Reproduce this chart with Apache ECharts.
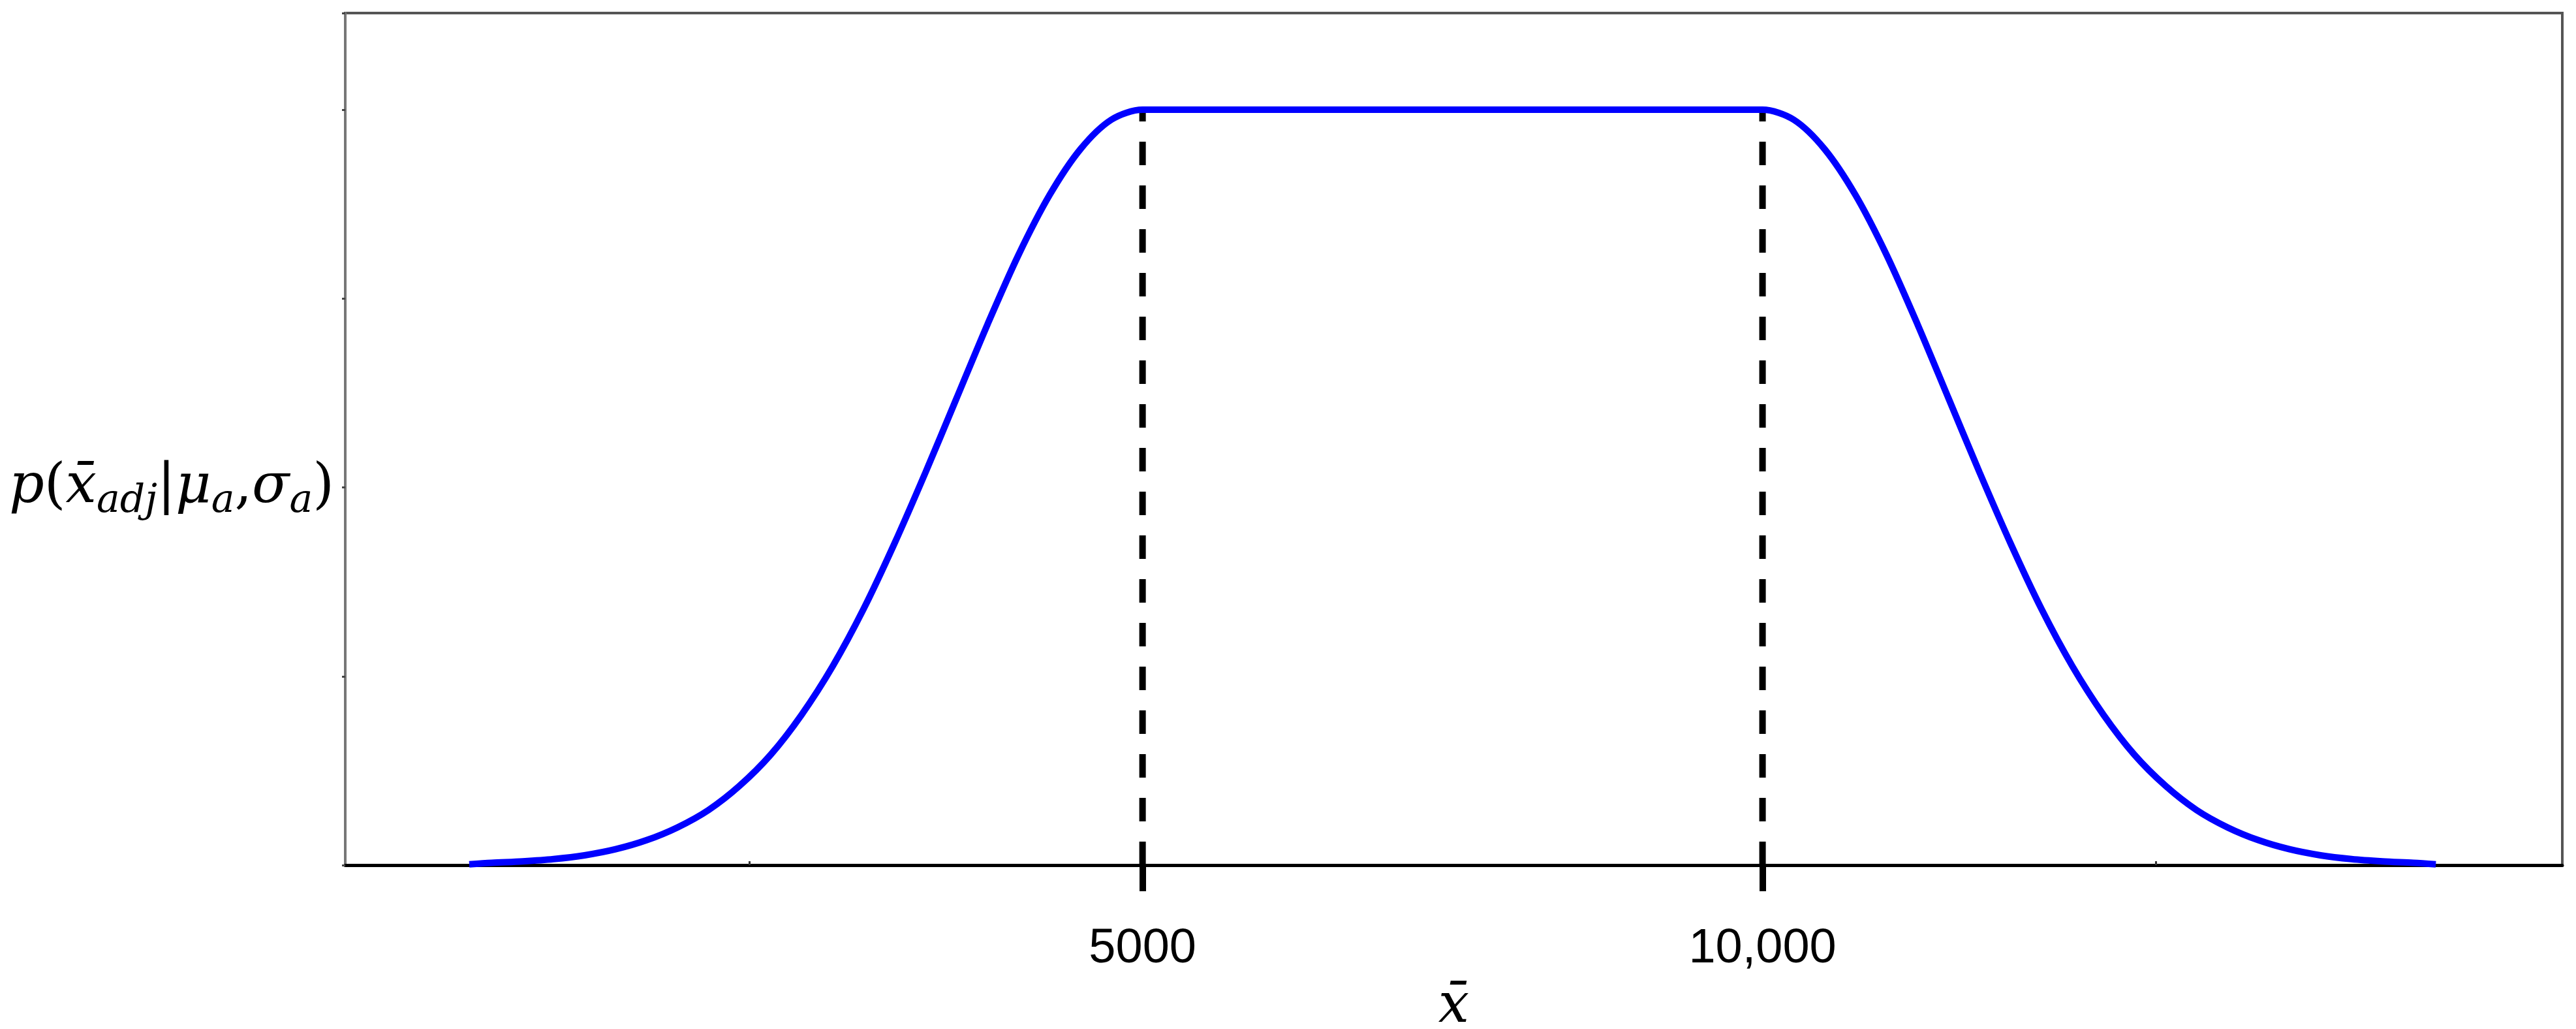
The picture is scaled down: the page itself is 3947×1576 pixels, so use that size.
<!DOCTYPE html>
<html>
<head>
<meta charset="utf-8">
<title>p(x̄adj|μa,σa)</title>
<script src="https://cdn.jsdelivr.net/npm/echarts@6/dist/echarts.min.js"></script>
<style>
  html, body { margin: 0; padding: 0; background: #fff; }
  #chart { width: 3947px; height: 1576px; }
</style>
</head>
<body>
<div id="chart"></div>
<script>
  // rising flank (x̄, density relative to the flat top)
  var leftX = [-430, -250, 0, 250, 500, 750, 1000, 1250, 1500, 1750, 2000, 2250, 2500, 2750, 3000, 3250, 3500, 3750, 4000, 4250, 4500, 4750, 5000];
  var leftY = [0.001, 0.003, 0.005, 0.008, 0.013, 0.021, 0.033, 0.050, 0.073, 0.105, 0.146, 0.199, 0.263, 0.339, 0.426, 0.520, 0.618, 0.716, 0.808, 0.887, 0.948, 0.987, 1.0];
  // falling flank
  var rightX = [10000, 10250, 10500, 10750, 11000, 11250, 11500, 11750, 12000, 12250, 12500, 12750, 13000, 13250, 13500, 13750, 14000, 14250, 14500, 14750, 15000, 15250, 15430];
  var rightY = [1.0, 0.987, 0.948, 0.887, 0.808, 0.716, 0.618, 0.520, 0.426, 0.339, 0.263, 0.199, 0.146, 0.105, 0.073, 0.050, 0.033, 0.021, 0.013, 0.008, 0.005, 0.003, 0.001];
  // the two bounds of the flat top (dashed lines) and their labels
  var bounds = [5000, 10000];
  var boundLabels = ['5000', '10,000'];
  var plateau = 1.0;
  // small unlabelled ticks on the x axis
  var minorTicks = [1830, 13170];

  var curve = [];
  for (var i = 0; i < leftX.length; i++) curve.push([leftX[i], leftY[i]]);
  for (var j = 0; j < rightX.length; j++) curve.push([rightX[j], rightY[j]]);

  var dashStyle = { color: '#000', width: 10, type: [36, 31] };

  var chart = echarts.init(document.getElementById('chart'));
  var option = {
    backgroundColor: '#fff',
    animation: false,
    grid: {
      left: 529, right: 21, top: 20, bottom: 251,
      show: true, borderColor: '#555', borderWidth: 4,
      outerBoundsMode: 'none'
    },
    xAxis: [{
      type: 'value',
      min: -1430, max: 16450,
      splitLine: { show: false },
      axisLine: { onZero: false, lineStyle: { color: '#000', width: 5 } },
      axisTick: { customValues: bounds, length: 40, lineStyle: { color: '#000', width: 10 } },
      axisLabel: {
        customValues: bounds,
        margin: 92,
        fontFamily: 'Liberation Sans',
        fontSize: 74,
        color: '#000',
        formatter: function (v) {
          var k = bounds.indexOf(v);
          return k >= 0 ? boundLabels[k] : '';
        }
      },
      name: 'x\u0304',
      nameLocation: 'middle',
      nameGap: 176,
      nameTextStyle: { fontFamily: 'DejaVu Serif', fontStyle: 'italic', fontSize: 84, color: '#000' }
    }, {
      type: 'value',
      position: 'bottom',
      min: -1430, max: 16450,
      splitLine: { show: false },
      axisLine: { show: false, onZero: false },
      axisLabel: { show: false },
      axisTick: { customValues: minorTicks, inside: true, length: 6, lineStyle: { color: '#333', width: 3 } }
    }],
    yAxis: {
      type: 'value',
      min: 0, max: 1.128, interval: 0.25,
      splitLine: { show: false },
      axisLine: { show: true, onZero: false, lineStyle: { color: '#777', width: 4 } },
      axisTick: { show: true, length: 5, lineStyle: { color: '#444', width: 3 } },
      axisLabel: { show: false },
      name: '{i|p}{r|(}{i|x\u0304}{s|adj}{r||}{i|μ}{s|a}{r|,}{i|σ}{s|a}{r|)}',
      nameLocation: 'middle',
      nameRotate: 0,
      nameGap: 17,
      nameTextStyle: {
        color: '#000',
        padding: [150, 0, 0, 0],
        rich: {
          i: { fontFamily: 'DejaVu Serif', fontStyle: 'italic', fontSize: 84, color: '#000', verticalAlign: 'middle' },
          r: { fontFamily: 'DejaVu Serif', fontSize: 84, color: '#000', verticalAlign: 'middle' },
          s: { fontFamily: 'DejaVu Serif', fontStyle: 'italic', fontSize: 60, color: '#000', verticalAlign: 'middle', padding: [42, 0, 0, 0] }
        }
      }
    },
    series: [{
      type: 'line',
      data: [[bounds[0], 0], [bounds[0], plateau]],
      symbol: 'none',
      lineStyle: dashStyle
    }, {
      type: 'line',
      data: [[bounds[1], 0], [bounds[1], plateau]],
      symbol: 'none',
      lineStyle: dashStyle
    }, {
      type: 'line',
      data: curve,
      symbol: 'none',
      smooth: 0.3,
      lineStyle: { color: '#0000ff', width: 10 }
    }]
  };
  chart.setOption(option);
</script>
</body>
</html>
